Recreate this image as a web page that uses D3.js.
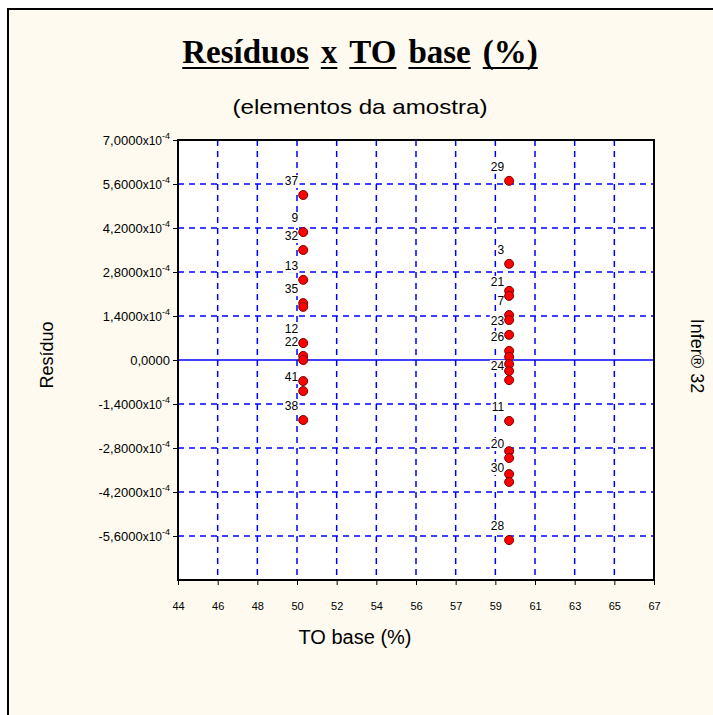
<!DOCTYPE html>
<html>
<head>
<meta charset="utf-8">
<script src="https://cdn.jsdelivr.net/npm/d3@7"></script>
<style>
body { margin: 0; background: #fff; }
text { font-family: "Liberation Sans", Arial, sans-serif; fill: #000; }
</style>
</head>
<body>
<svg id="chart" width="713" height="715"></svg>
<script>
// elementos da amostra, top to bottom inside each column ("" = label hidden under another)
var elementos = ["37", "9", "32", "13", "35", "", "12", "22", "", "", "41", "38",
	"29", "3", "", "21", "7", "", "23", "26", "", "", "", "24", "11", "", "20", "", "30", "28"];
var toBase = [50.05, 50.05, 50.05, 50.05, 50.05, 50.05, 50.05, 50.05, 50.05, 50.05, 50.05, 50.05,
	60.0, 60.0, 60.0, 60.0, 60.0, 60.0, 60.0, 60.0, 60.0, 60.0, 60.0, 60.0, 60.0, 60.0, 60.0, 60.0, 60.0, 60.0];
// residuo in units of 10^-4
var residuos = [5.25, 4.07, 3.50, 2.55, 1.81, 1.69, 0.54, 0.13, 0.0, -0.67, -0.99, -1.91,
	5.70, 3.06, 2.20, 2.04, 1.43, 1.27, 0.80, 0.29, 0.10, -0.13, -0.35, -0.64, -1.94, -2.90, -3.12, -3.63, -3.88, -5.73];

var xTickLabels = ["44", "46", "48", "50", "52", "54", "56", "57", "59", "61", "63", "65", "67"];
var yTickValues = [7, 5.6, 4.2, 2.8, 1.4, 0, -1.4, -2.8, -4.2, -5.6];
var yTickLabels = ["7,0000", "5,6000", "4,2000", "2,8000", "1,4000", "0,0000", "-1,4000", "-2,8000", "-4,2000", "-5,6000"];
var titleWords = ["Resíduos", "x", "TO", "base", "(%)"];

var svg = d3.select("#chart");
var cream = "#fefaef";
var blue = "#0000ff";

// outer panel (runs off the right and bottom of the window)
svg.append("rect").attr("x", 8).attr("y", 9).attr("width", 720).attr("height", 720)
	.attr("fill", cream).attr("stroke", "#000").attr("stroke-width", 2);

var x = d3.scaleLinear().domain([44, 67]).range([178, 654]);
var y = d3.scaleLinear().domain([-7, 7]).range([580, 140]);
var xTicks = d3.range(xTickLabels.length).map(function(i) { return 44 + i * 23 / 12; });

svg.append("rect").attr("x", 178).attr("y", 140).attr("width", 476).attr("height", 440).attr("fill", "#fff");

// grid
var grid = svg.append("g").attr("stroke", blue).attr("stroke-width", 1.5).attr("stroke-dasharray", "6,5");
grid.selectAll(".vg").data(xTicks.slice(1, -1)).enter().append("line")
	.attr("x1", function(d) { return x(d); }).attr("x2", function(d) { return x(d); })
	.attr("y1", 140).attr("y2", 580);
grid.selectAll(".hg").data(yTickValues.filter(function(d) { return d != 0 && d != 7; })).enter().append("line")
	.attr("x1", 178).attr("x2", 654)
	.attr("y1", function(d) { return y(d); }).attr("y2", function(d) { return y(d); });
svg.append("line").attr("x1", 178).attr("x2", 654).attr("y1", y(0)).attr("y2", y(0))
	.attr("stroke", blue).attr("stroke-width", 1.5);

// axes
var xAxis = svg.append("g").attr("transform", "translate(0,580)")
	.call(d3.axisBottom(x).tickValues(xTicks).tickSize(5).tickPadding(17)
		.tickFormat(function(d, i) { return xTickLabels[i]; }));
xAxis.select(".domain").remove();
xAxis.selectAll("text").attr("font-size", 11).attr("font-family", null);

var yAxis = svg.append("g").attr("transform", "translate(178,0)")
	.call(d3.axisLeft(y).tickValues(yTickValues).tickSize(5).tickPadding(3)
		.tickFormat(function(d, i) { return yTickLabels[i]; }));
yAxis.select(".domain").remove();
yAxis.selectAll("text").attr("font-size", 13).attr("font-family", null).each(function(d, i) {
	var t = d3.select(this);
	if (d == 0) return;
	t.text(null);
	t.append("tspan").text(yTickLabels[i]);
	t.append("tspan").attr("font-size", 12).text("x10");
	t.append("tspan").attr("font-size", 9).attr("dy", -6).text("-4");
});

svg.append("rect").attr("x", 178).attr("y", 140).attr("width", 476).attr("height", 440)
	.attr("fill", "none").attr("stroke", "#000").attr("stroke-width", 2);

// point labels with opaque boxes, then the points
var labels = svg.append("g");
elementos.forEach(function(lab, i) {
	if (!lab) return;
	var px = x(toBase[i]), py = y(residuos[i]);
	var g = labels.append("g");
	var r = g.append("rect").attr("fill", "#fff");
	var t = g.append("text").attr("x", px - 5).attr("y", py - 10).attr("text-anchor", "end")
		.attr("font-size", 12).text(lab);
	var b = t.node().getBBox();
	r.attr("x", b.x - 1).attr("y", b.y + 1).attr("width", b.width + 2).attr("height", b.height - 1);
});

svg.append("g").selectAll("circle").data(residuos).enter().append("circle")
	.attr("cx", function(d, i) { return x(toBase[i]); })
	.attr("cy", function(d) { return y(d); })
	.attr("r", 4.5)
	.attr("fill", "#ff0000").attr("stroke", "#7a0000").attr("stroke-width", 1);

// title, each word underlined on its own
var title = svg.append("g");
var widths = [];
var nodes = titleWords.map(function(w) {
	var t = title.append("text").attr("y", 63)
		.style("font-family", "'Liberation Serif', 'Times New Roman', serif")
		.attr("font-weight", "bold").attr("font-size", 33).text(w);
	widths.push(t.node().getComputedTextLength());
	return t;
});
var gap = 12;
var total = d3.sum(widths) + gap * (titleWords.length - 1);
var cx = 360 - total / 2;
nodes.forEach(function(t, i) {
	t.attr("x", cx);
	title.append("rect").attr("x", cx).attr("y", 67).attr("width", widths[i]).attr("height", 2).attr("fill", "#000");
	cx += widths[i] + gap;
});

svg.append("text").attr("x", 360).attr("y", 114).attr("text-anchor", "middle")
	.attr("font-size", 21).attr("textLength", 255).attr("lengthAdjust", "spacingAndGlyphs")
	.text("(elementos da amostra)");

svg.append("text").attr("transform", "translate(53,355) rotate(-90)").attr("text-anchor", "middle")
	.attr("font-size", 18).text("Resíduo");

svg.append("text").attr("transform", "translate(691,356) rotate(90)").attr("text-anchor", "middle")
	.attr("font-size", 18).text("Infer® 32");

svg.append("text").attr("x", 355).attr("y", 644).attr("text-anchor", "middle")
	.attr("font-size", 20).text("TO base (%)");
</script>
</body>
</html>
